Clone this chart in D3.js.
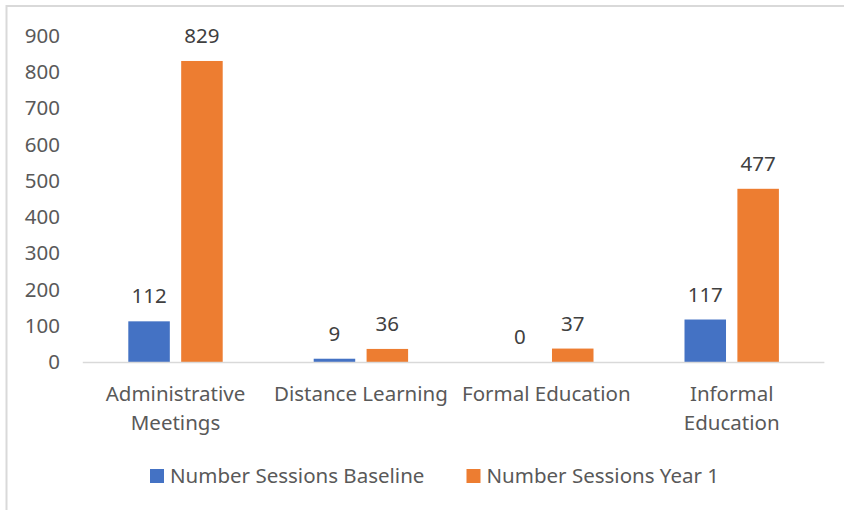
<!DOCTYPE html>
<html>
<head>
<meta charset="utf-8">
<script src="https://cdn.jsdelivr.net/npm/d3@7"></script>
<style>
  html, body { margin: 0; padding: 0; background: #fff; }
  svg { display: block; }
  text { font-family: "Noto Sans", sans-serif; }
</style>
</head>
<body>
<div id="chart"></div>
<script>
const categories = ["Administrative Meetings", "Distance Learning", "Formal Education", "Informal Education"];
const categoryLines = [["Administrative", "Meetings"], ["Distance Learning"], ["Formal Education"], ["Informal", "Education"]];
const seriesNames = ["Number Sessions Baseline", "Number Sessions Year 1"];
const baseline = [112, 9, 0, 117];
const year1 = [829, 36, 37, 477];
const yTicks = [0, 100, 200, 300, 400, 500, 600, 700, 800, 900];
const colors = ["#4472C4", "#ED7D31"];

const W = 844, H = 510;
const svg = d3.select("#chart").append("svg").attr("width", W).attr("height", H);

// chart border
svg.append("rect").attr("x", 6.5).attr("y", 6).attr("width", W + 10).attr("height", H + 10)
  .attr("fill", "none").attr("stroke", "#d9d9d9").attr("stroke-width", 2);

const x0 = d3.scaleBand().domain(categories).range([82.8, 824.4]).paddingInner(0).paddingOuter(0);
const bw = x0.bandwidth();
const groupW = 94.4;
const x1 = d3.scaleBand().domain(seriesNames).range([(bw - groupW) / 2, (bw + groupW) / 2]).paddingInner(0.215);
const y = d3.scaleLinear().domain([0, 900]).range([362, 35.2]);

// y axis labels
svg.append("g").selectAll("text").data(yTicks).join("text")
  .attr("x", 60).attr("y", d => y(d)).attr("dy", "0.36em")
  .attr("text-anchor", "end").attr("font-size", 20.5).attr("fill", "#595959")
  .text(d => d);

const data = categories.map((c, i) => ({ cat: c, vals: [baseline[i], year1[i]] }));

const groups = svg.append("g").selectAll("g").data(data).join("g")
  .attr("transform", d => `translate(${x0(d.cat)},0)`);

groups.selectAll("rect").data(d => d.vals.map((v, j) => ({ v, s: seriesNames[j], j }))).join("rect")
  .attr("x", d => x1(d.s)).attr("width", x1.bandwidth())
  .attr("y", d => y(d.v)).attr("height", d => y(0) - y(d.v))
  .attr("fill", d => colors[d.j]);

groups.selectAll("text.lbl").data(d => d.vals.map((v, j) => ({ v, s: seriesNames[j], j }))).join("text")
  .attr("class", "lbl")
  .attr("x", d => x1(d.s) + x1.bandwidth() / 2).attr("y", d => y(d.v) - 18)
  .attr("text-anchor", "middle").attr("font-size", 20.5).attr("fill", "#404040")
  .text(d => d.v);

// x axis line
const xr = x0.range();
svg.append("line").attr("x1", xr[0]).attr("x2", xr[1]).attr("y1", y(0) + 0.5).attr("y2", y(0) + 0.5)
  .attr("stroke", "#d9d9d9").attr("stroke-width", 1.5);

// category labels
const catG = svg.append("g").selectAll("text").data(categories).join("text")
  .attr("text-anchor", "middle").attr("font-size", 20.5).attr("fill", "#595959")
  .attr("transform", d => `translate(${x0(d) + bw / 2},401)`);
catG.selectAll("tspan").data((d, i) => categoryLines[i]).join("tspan")
  .attr("x", 0).attr("y", (d, k) => k * 29).text(d => d);

// legend
const legendX = [150, 466.5];
const lg = svg.append("g").selectAll("g").data(seriesNames).join("g")
  .attr("transform", (d, i) => `translate(${legendX[i]},469)`);
lg.append("rect").attr("width", 14).attr("height", 14).attr("fill", (d, i) => colors[i]);
lg.append("text").attr("x", 20).attr("y", 14).attr("font-size", 20.5).attr("fill", "#595959").text(d => d);
</script>
</body>
</html>
